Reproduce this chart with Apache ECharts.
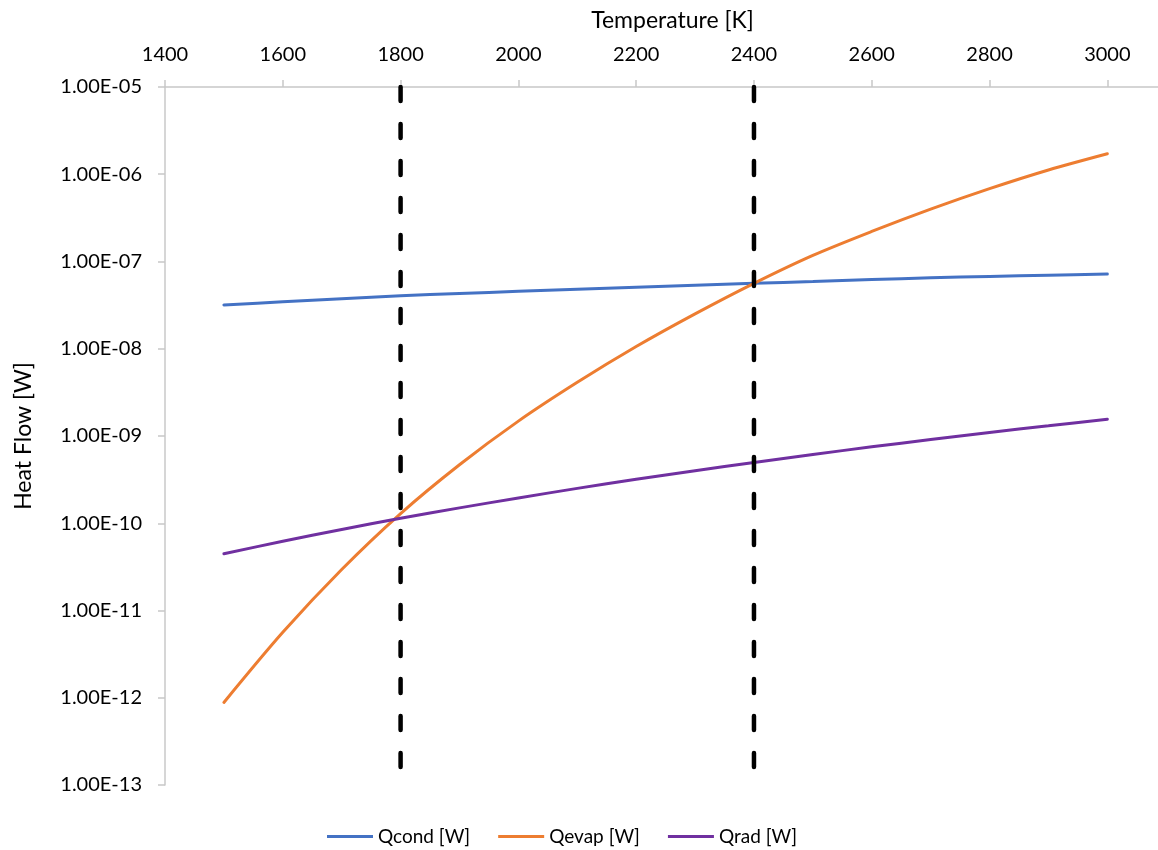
<!DOCTYPE html>
<html>
<head>
<meta charset="utf-8">
<script src="https://cdn.jsdelivr.net/npm/echarts@6/dist/echarts.min.js"></script>
<style>
html,body{margin:0;padding:0;background:#ffffff;}
#chart{width:1158px;height:850px;}
</style>
</head>
<body>
<div id="chart"></div>
<script>
// ---- data ----
const temperatures = [1500,1600,1700,1800,1900,2000,2100,2200,2300,2400,2500,2600,2700,2800,2900,3000];
const qcond = [3.17e-8,3.45e-8,3.75e-8,4.05e-8,4.30e-8,4.55e-8,4.81e-8,5.07e-8,5.35e-8,5.62e-8,5.90e-8,6.21e-8,6.50e-8,6.75e-8,6.97e-8,7.19e-8];
const qevap = [8.83e-13,5.62e-12,2.95e-11,1.29e-10,4.68e-10,1.48e-9,4.12e-9,1.06e-8,2.51e-8,5.62e-8,1.175e-7,2.21e-7,3.98e-7,6.84e-7,1.12e-6,1.72e-6];
const qrad = [4.47e-11,6.22e-11,8.49e-11,1.14e-10,1.50e-10,1.95e-10,2.51e-10,3.19e-10,4.00e-10,4.98e-10,6.14e-10,7.51e-10,9.11e-10,1.10e-9,1.31e-9,1.56e-9];
const xTickLabels = [1400,1600,1800,2000,2200,2400,2600,2800,3000];
const markerTemps = [1800, 2400];
const yRange = [1e-13, 1e-5];
const seriesNames = ['Qcond [W]','Qevap [W]','Qrad [W]'];
const colors = ['#4472C4','#ED7D31','#7030A0'];

const FONT = 'Lato';

function sciLabel(v){
  const e = Math.round(Math.log10(v));
  const a = Math.abs(e);
  return '1.00E' + (e < 0 ? '-' : '+') + (a < 10 ? '0' + a : '' + a);
}

const mainSeries = [qcond, qevap, qrad].map((vals, i) => ({
  name: seriesNames[i],
  type: 'line',
  data: temperatures.map((t, j) => [t, vals[j]]),
  symbol: 'none',
  smooth: 0.3,
  lineStyle: { color: colors[i], width: 3, cap: 'round' },
  itemStyle: { color: colors[i] },
  z: 3
}));

const markerSeries = markerTemps.map(t => ({
  name: 'marker' + t,
  type: 'line',
  data: [[t, yRange[1]], [t, yRange[0]]],
  symbol: 'none',
  silent: true,
  lineStyle: { color: '#000000', width: 4.5, type: [14, 23], cap: 'round' },
  z: 4
}));

const chart = echarts.init(document.getElementById('chart'), null, { renderer: 'canvas' });
chart.setOption({
  backgroundColor: '#ffffff',
  animation: false,
  textStyle: { fontFamily: FONT },
  grid: { left: 165, right: 0, top: 87, bottom: 65, containLabel: false },
  xAxis: {
    type: 'value',
    position: 'top',
    min: 1400,
    max: 3086,
    interval: 200,
    name: 'Temperature [K]',
    nameLocation: 'middle',
    nameGap: 55,
    nameTextStyle: { fontFamily: FONT, fontSize: 23, color: '#000', padding: [0, 0, 0, 22] },
    axisLine: { show: true, lineStyle: { color: '#C8C8C8', width: 1.5 } },
    axisTick: { show: true, inside: false, length: 7, customValues: xTickLabels, lineStyle: { color: '#C8C8C8', width: 1.5 } },
    axisLabel: { fontFamily: FONT, fontSize: 20, color: '#000', margin: 22, customValues: xTickLabels, formatter: v => String(v) },
    splitLine: { show: false }
  },
  yAxis: {
    type: 'log',
    logBase: 10,
    min: yRange[0],
    max: yRange[1],
    splitNumber: 8,
    name: 'Heat Flow [W]',
    nameLocation: 'middle',
    nameGap: 130,
    nameRotate: 90,
    nameTextStyle: { fontFamily: FONT, fontSize: 23, color: '#000', padding: [0, 0, 0, 0] },
    axisLine: { show: true, lineStyle: { color: '#C8C8C8', width: 1.5 } },
    axisTick: { show: true, inside: false, length: 7, lineStyle: { color: '#C8C8C8', width: 1.5 } },
    axisLabel: { fontFamily: FONT, fontSize: 20, color: '#000', margin: 23, formatter: sciLabel },
    splitLine: { show: false },
    minorTick: { show: false }
  },
  legend: {
    data: seriesNames,
    bottom: 4,
    left: 327,
    padding: 0,
    itemWidth: 46,
    itemHeight: 14,
    itemGap: 28,
    icon: 'path://M0,6 L46,6 L46,9 L0,9 Z',
    textStyle: { fontFamily: FONT, fontSize: 19, color: '#000', padding: [0, 0, 0, 0] },
    selectedMode: false
  },
  series: mainSeries.concat(markerSeries)
});
</script>
</body>
</html>
